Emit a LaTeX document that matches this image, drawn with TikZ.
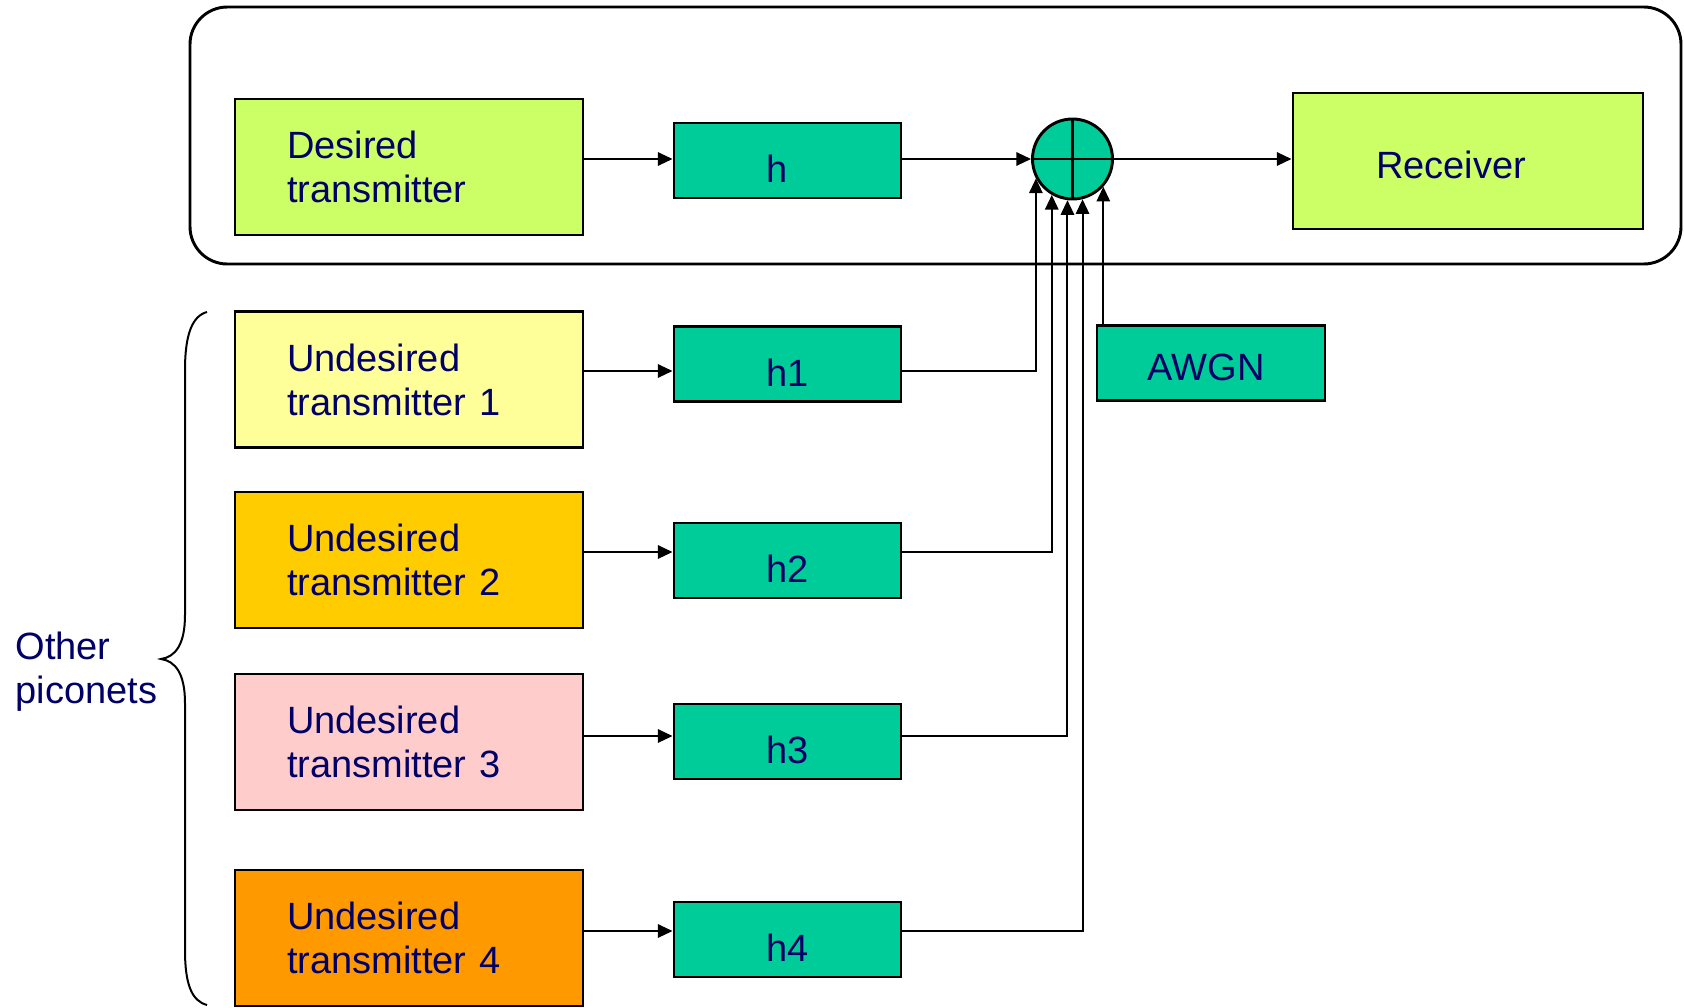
\documentclass[tikz,border=0pt]{standalone}
\usepackage{fontspec}
\setmainfont{Liberation Sans}
\usetikzlibrary{arrows.meta}

\definecolor{txgreen}{RGB}{204,255,102}
\definecolor{txyellow}{RGB}{255,255,153}
\definecolor{txgold}{RGB}{255,204,0}
\definecolor{txpink}{RGB}{255,204,204}
\definecolor{txorange}{RGB}{255,153,0}
\definecolor{chteal}{RGB}{0,204,153}
\definecolor{labelblue}{RGB}{0,0,102}

\tikzset{every picture/.style={line width=0.75pt}}
\tikzset{
  lbl/.style={font=\fontsize{28.5}{33}\selectfont, text=labelblue},
  txbox/.style={lbl, draw, line width=2.2pt, minimum width=261pt, minimum height=102pt,
    text width=183pt, inner xsep=39pt, align=left},
  chbox/.style={lbl, draw, line width=2.2pt, fill=chteal, minimum width=170.25pt,
    minimum height=56.25pt, text height=33.6pt, text depth=0pt},
  link/.style={line width=1.5pt, -{Triangle[length=11pt,width=10pt]}},
}

\begin{document}
\begin{tikzpicture}[x=0.75pt,y=0.75pt,yscale=-1,xscale=1]
\useasboundingbox (0,0) rectangle (1684,1007);

%Shape: Rounded Rect (own piconet)
\draw [line width=2.2pt, rounded corners=28pt] (190,7) rectangle (1681,264);

%Shape: Brace
\draw [line width=1.5pt] (207,312) .. controls (192,316) and (185,335) .. (185,370) -- (185,615) .. controls (185,645) and (175,657) .. (161,659) .. controls (175,661) and (185,673) .. (185,703) -- (185,950) .. controls (185,985) and (192,1001) .. (207,1005);

% Transmitters
\node [txbox, fill=txgreen] (desired) at (409,167) {Desired\\transmitter};
\node [txbox, fill=txyellow] (ut1) at (409,379.5) {Undesired\\transmitter 1};
\node [txbox, fill=txgold] (ut2) at (409,560) {Undesired\\transmitter 2};
\node [txbox, fill=txpink] (ut3) at (409,742) {Undesired\\transmitter 3};
\node [txbox, fill=txorange] (ut4) at (409,938) {Undesired\\transmitter 4};

% Channels
\node [chbox] (h) at (787.5,160.5) {h\phantom{1}};
\node [chbox] (h1) at (787.5,364) {h1};
\node [chbox] (h2) at (787.5,560.5) {h2};
\node [chbox] (h3) at (787.5,741.5) {h3};
\node [chbox] (h4) at (787.5,939.5) {h4};

%Shape: Circle (summing junction)
\node [circle, draw, fill=chteal, line width=2.2pt, minimum size=60pt, inner sep=0pt] (sum) at (1072.5,159) {};
\draw [line width=2.2pt] (sum.north) -- (sum.south) (sum.west) -- (sum.east);

% Receiver and noise
\node [txbox, fill=txgreen, minimum width=262.5pt, text width=138pt, inner xsep=62.25pt, text height=26.8pt, text depth=0pt] (rx) at (1468,161) {Receiver};
\node [chbox, align=left, text width=95pt, inner xsep=38pt, text height=26.8pt] (awgn) at (1211,363) {AWGN};

% Text Node
\node [lbl, anchor=north west, inner sep=0pt, align=left] (piconets) at (15,631) {Other\\piconets};

% Row levels of the links
\coordinate (row1) at (0,371);
\coordinate (row2) at (0,552);
\coordinate (row3) at (0,736);
\coordinate (row4) at (0,931);

%Straight Lines
\draw [link] (desired.east |- sum) -- (h.west |- sum);
\draw [link] (h.east |- sum) -- (sum.west);
\draw [link] (sum.east) -- (rx.west |- sum);
\draw [link] (ut1.east |- row1) -- (h1.west |- row1);
\draw [link] (ut2.east |- row2) -- (h2.west |- row2);
\draw [link] (ut3.east |- row3) -- (h3.west |- row3);
\draw [link] (ut4.east |- row4) -- (h4.west |- row4);
\draw [link] (h1.east |- row1) -| (sum.-152.6);
\draw [link] (h2.east |- row2) -| (sum.-120.8);
\draw [link] (h3.east |- row3) -| (sum.-97.9);
\draw [link] (h4.east |- row4) -| (sum.-76.3);
\draw [link] (awgn.north -| sum.-42.5) -- (sum.-42.5);

\end{tikzpicture}
\end{document}
